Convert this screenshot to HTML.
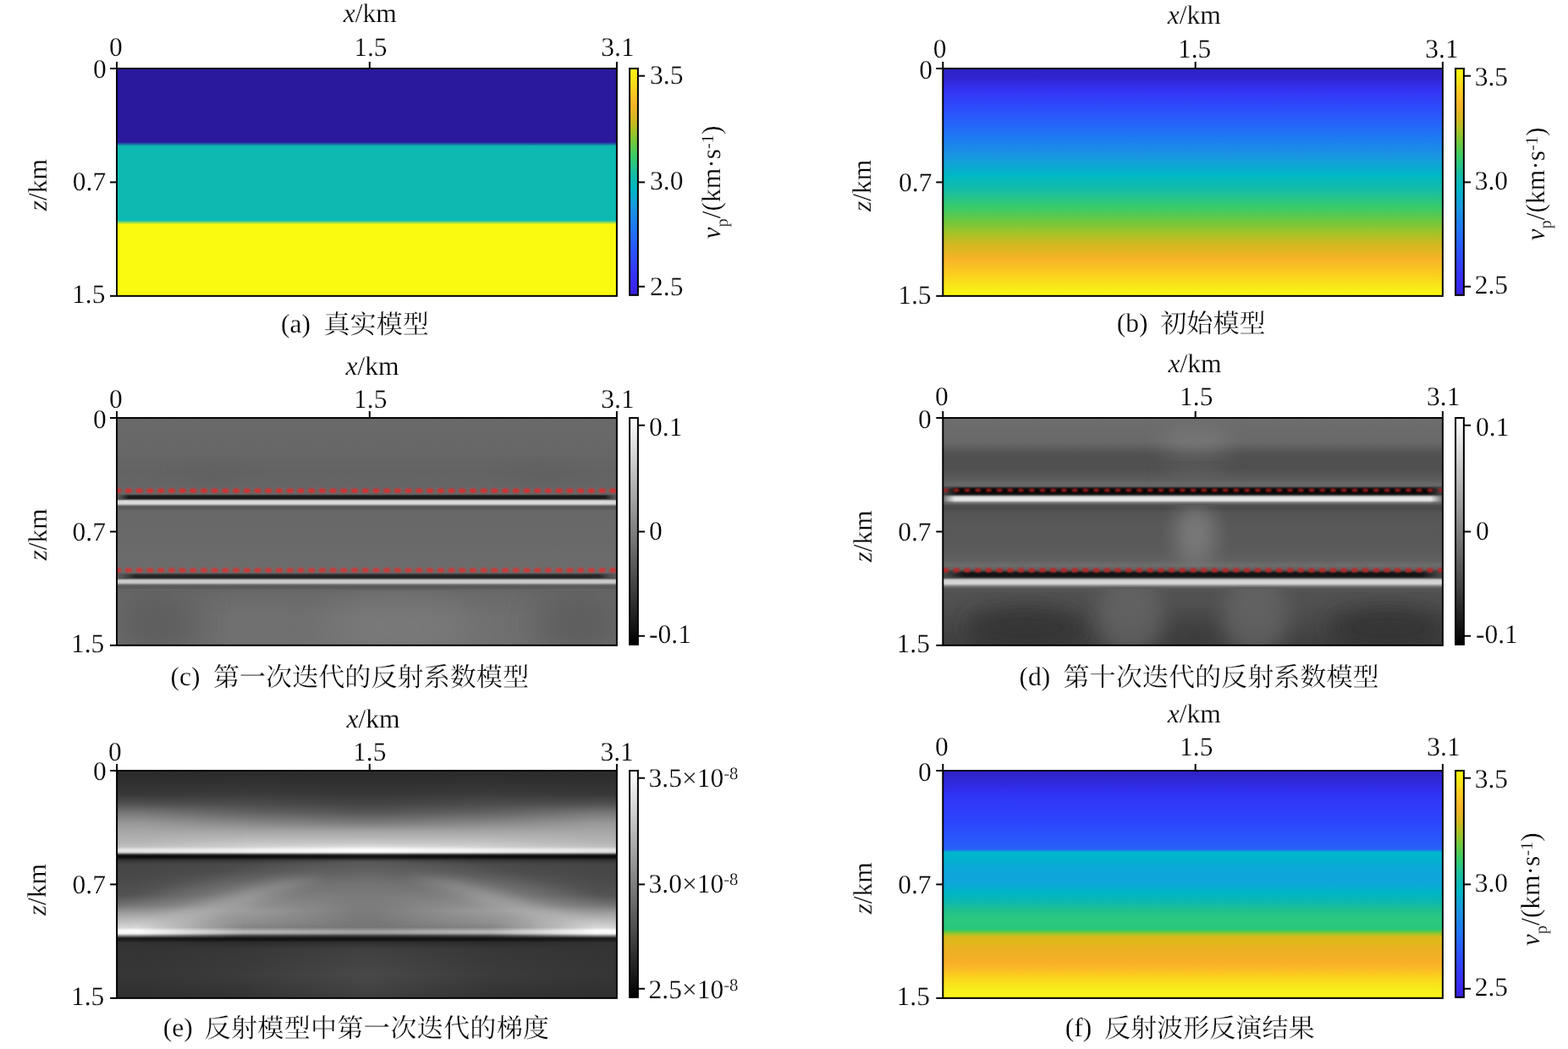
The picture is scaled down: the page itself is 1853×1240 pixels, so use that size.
<!DOCTYPE html>
<html lang="zh"><head><meta charset="utf-8"><title>Figure</title>
<style>html,body{margin:0;padding:0;background:#fff}svg{display:block}text{font-family:"Liberation Serif","Noto Serif CJK SC",serif;fill:#000;text-rendering:geometricPrecision;stroke:#fff;stroke-width:0.22px}</style></head>
<body>
<svg style="will-change:transform" width="1853" height="1240" viewBox="0 0 1853 1240">
<defs>
<linearGradient id="gb" x1="0" y1="0" x2="0" y2="1"><stop offset="0.0000" stop-color="#2E22C4"/><stop offset="0.0400" stop-color="#3024D0"/><stop offset="0.1000" stop-color="#3535F5"/><stop offset="0.2000" stop-color="#2A55FC"/><stop offset="0.2900" stop-color="#2075F5"/><stop offset="0.3900" stop-color="#1898E0"/><stop offset="0.4700" stop-color="#00B8C4"/><stop offset="0.5300" stop-color="#14BCA8"/><stop offset="0.6100" stop-color="#38CC6A"/><stop offset="0.6700" stop-color="#6CC840"/><stop offset="0.7200" stop-color="#A0C428"/><stop offset="0.7700" stop-color="#D0B820"/><stop offset="0.8400" stop-color="#F8B428"/><stop offset="0.9000" stop-color="#FCCC20"/><stop offset="0.9500" stop-color="#F8E418"/><stop offset="1.0000" stop-color="#FAFA10"/></linearGradient>
<linearGradient id="gcb" x1="0" y1="0" x2="0" y2="1"><stop offset="0.0000" stop-color="#FAFA10"/><stop offset="0.0500" stop-color="#F8E418"/><stop offset="0.1000" stop-color="#FCCC20"/><stop offset="0.1600" stop-color="#F8B428"/><stop offset="0.2300" stop-color="#D0B820"/><stop offset="0.2800" stop-color="#A0C428"/><stop offset="0.3300" stop-color="#6CC840"/><stop offset="0.3900" stop-color="#38CC6A"/><stop offset="0.4700" stop-color="#14BCA8"/><stop offset="0.5300" stop-color="#00B8C4"/><stop offset="0.6100" stop-color="#1898E0"/><stop offset="0.7100" stop-color="#2075F5"/><stop offset="0.8000" stop-color="#2A55FC"/><stop offset="0.9000" stop-color="#3535F5"/><stop offset="0.9600" stop-color="#3828F0"/><stop offset="1.0000" stop-color="#3820D8"/></linearGradient>
<linearGradient id="ggray" x1="0" y1="0" x2="0" y2="1"><stop offset="0.0000" stop-color="#FFFFFF"/><stop offset="1.0000" stop-color="#000000"/></linearGradient>
<linearGradient id="ga" x1="0" y1="0" x2="0" y2="1"><stop offset="0.0000" stop-color="#2A199C"/><stop offset="0.3232" stop-color="#2A199C"/><stop offset="0.3322" stop-color="#1C68A8"/><stop offset="0.3411" stop-color="#0CBAB2"/><stop offset="0.6673" stop-color="#0CBAB2"/><stop offset="0.6762" stop-color="#84DA60"/><stop offset="0.6851" stop-color="#FAFA10"/><stop offset="1.0000" stop-color="#FAFA10"/></linearGradient>
<linearGradient id="gc" x1="0" y1="0" x2="0" y2="1"><stop offset="0.0035" stop-color="#6A6A6A"/><stop offset="0.0965" stop-color="#686868"/><stop offset="0.1709" stop-color="#666666"/><stop offset="0.2453" stop-color="#636363"/><stop offset="0.3012" stop-color="#666666"/><stop offset="0.3309" stop-color="#696969"/><stop offset="0.3365" stop-color="#585858"/><stop offset="0.3402" stop-color="#303030"/><stop offset="0.3439" stop-color="#1C1C1C"/><stop offset="0.3488" stop-color="#181818"/><stop offset="0.3532" stop-color="#1C1C1C"/><stop offset="0.3570" stop-color="#383838"/><stop offset="0.3599" stop-color="#808080"/><stop offset="0.3629" stop-color="#C0C0C0"/><stop offset="0.3666" stop-color="#D8D8D8"/><stop offset="0.3718" stop-color="#DCDCDC"/><stop offset="0.3767" stop-color="#D8D8D8"/><stop offset="0.3804" stop-color="#B8B8B8"/><stop offset="0.3841" stop-color="#888888"/><stop offset="0.3882" stop-color="#606060"/><stop offset="0.3930" stop-color="#585858"/><stop offset="0.3979" stop-color="#5A5A5A"/><stop offset="0.4090" stop-color="#686868"/><stop offset="0.5430" stop-color="#696969"/><stop offset="0.6471" stop-color="#6C6C6C"/><stop offset="0.6788" stop-color="#6C6C6C"/><stop offset="0.6836" stop-color="#585858"/><stop offset="0.6873" stop-color="#383838"/><stop offset="0.6918" stop-color="#282828"/><stop offset="0.6970" stop-color="#242424"/><stop offset="0.7022" stop-color="#282828"/><stop offset="0.7059" stop-color="#484848"/><stop offset="0.7089" stop-color="#888888"/><stop offset="0.7119" stop-color="#B8B8B8"/><stop offset="0.7156" stop-color="#C8C8C8"/><stop offset="0.7197" stop-color="#CCCCCC"/><stop offset="0.7238" stop-color="#C8C8C8"/><stop offset="0.7275" stop-color="#B0B0B0"/><stop offset="0.7312" stop-color="#888888"/><stop offset="0.7349" stop-color="#686868"/><stop offset="0.7394" stop-color="#5A5A5A"/><stop offset="0.7476" stop-color="#5A5A5A"/><stop offset="0.7569" stop-color="#666666"/><stop offset="0.7736" stop-color="#6A6A6A"/><stop offset="0.8778" stop-color="#707070"/><stop offset="0.9931" stop-color="#707070"/></linearGradient>
<filter id="bl12" x="-30%" y="-30%" width="160%" height="160%"><feGaussianBlur stdDeviation="12"/></filter>
<filter id="bl20" x="-30%" y="-30%" width="160%" height="160%"><feGaussianBlur stdDeviation="20"/></filter>
<filter id="bl6" x="-30%" y="-30%" width="160%" height="160%"><feGaussianBlur stdDeviation="6"/></filter>
<filter id="blr1" x="-2%" y="-100%" width="104%" height="300%"><feGaussianBlur stdDeviation="0.9"/></filter>
<clipPath id="clc"><rect x="138" y="494.05" width="590.9" height="268.8"/></clipPath>
<linearGradient id="gcedgeL" x1="0" y1="0" x2="1" y2="0"><stop offset="0.0000" stop-color="#646464" stop-opacity="0.9"/><stop offset="0.4000" stop-color="#646464" stop-opacity="0.6"/><stop offset="1.0000" stop-color="#646464" stop-opacity="0"/></linearGradient>
<linearGradient id="gcedgeR" x1="0" y1="0" x2="1" y2="0"><stop offset="0.0000" stop-color="#646464" stop-opacity="0"/><stop offset="0.6000" stop-color="#646464" stop-opacity="0.6"/><stop offset="1.0000" stop-color="#646464" stop-opacity="0.9"/></linearGradient>
<clipPath id="clc3"><rect x="138" y="698" width="590.9" height="64.85000000000002"/></clipPath>
<clipPath id="clc1"><rect x="138" y="494.05" width="590.9" height="81.94999999999999"/></clipPath>
<linearGradient id="gd" x1="0" y1="0" x2="0" y2="1"><stop offset="0.0035" stop-color="#707070"/><stop offset="0.0221" stop-color="#6C6C6C"/><stop offset="0.1040" stop-color="#696969"/><stop offset="0.1263" stop-color="#606060"/><stop offset="0.1523" stop-color="#545454"/><stop offset="0.1747" stop-color="#505050"/><stop offset="0.2230" stop-color="#505050"/><stop offset="0.2453" stop-color="#565656"/><stop offset="0.2714" stop-color="#5C5C5C"/><stop offset="0.2900" stop-color="#686868"/><stop offset="0.2993" stop-color="#646464"/><stop offset="0.3049" stop-color="#404040"/><stop offset="0.3097" stop-color="#181818"/><stop offset="0.3142" stop-color="#0A0A0A"/><stop offset="0.3227" stop-color="#060606"/><stop offset="0.3309" stop-color="#0A0A0A"/><stop offset="0.3358" stop-color="#202020"/><stop offset="0.3398" stop-color="#585858"/><stop offset="0.3428" stop-color="#989898"/><stop offset="0.3462" stop-color="#CCCCCC"/><stop offset="0.3506" stop-color="#E2E2E2"/><stop offset="0.3562" stop-color="#EAEAEA"/><stop offset="0.3618" stop-color="#E2E2E2"/><stop offset="0.3659" stop-color="#C8C8C8"/><stop offset="0.3692" stop-color="#989898"/><stop offset="0.3737" stop-color="#747474"/><stop offset="0.3793" stop-color="#5C5C5C"/><stop offset="0.3849" stop-color="#4E4E4E"/><stop offset="0.3979" stop-color="#4A4A4A"/><stop offset="0.4165" stop-color="#545454"/><stop offset="0.4686" stop-color="#585858"/><stop offset="0.5802" stop-color="#5A5A5A"/><stop offset="0.6248" stop-color="#606060"/><stop offset="0.6471" stop-color="#6C6C6C"/><stop offset="0.6657" stop-color="#646464"/><stop offset="0.6739" stop-color="#404040"/><stop offset="0.6780" stop-color="#242424"/><stop offset="0.6825" stop-color="#161616"/><stop offset="0.6888" stop-color="#121212"/><stop offset="0.6955" stop-color="#161616"/><stop offset="0.7003" stop-color="#282828"/><stop offset="0.7041" stop-color="#585858"/><stop offset="0.7078" stop-color="#989898"/><stop offset="0.7122" stop-color="#C4C4C4"/><stop offset="0.7171" stop-color="#D4D4D4"/><stop offset="0.7219" stop-color="#D8D8D8"/><stop offset="0.7271" stop-color="#D4D4D4"/><stop offset="0.7316" stop-color="#C0C0C0"/><stop offset="0.7357" stop-color="#9C9C9C"/><stop offset="0.7401" stop-color="#7C7C7C"/><stop offset="0.7450" stop-color="#646464"/><stop offset="0.7506" stop-color="#565656"/><stop offset="0.7662" stop-color="#525252"/><stop offset="0.8220" stop-color="#505050"/><stop offset="0.8964" stop-color="#4A4A4A"/><stop offset="0.9931" stop-color="#404040"/></linearGradient>
<clipPath id="cld"><rect x="1114.3" y="494.05" width="590.6000000000001" height="268.8"/></clipPath>
<linearGradient id="gdedgeL" x1="0" y1="0" x2="1" y2="0"><stop offset="0.0000" stop-color="#585858" stop-opacity="0.85"/><stop offset="0.4000" stop-color="#585858" stop-opacity="0.5"/><stop offset="1.0000" stop-color="#585858" stop-opacity="0"/></linearGradient>
<linearGradient id="gdedgeR" x1="0" y1="0" x2="1" y2="0"><stop offset="0.0000" stop-color="#585858" stop-opacity="0"/><stop offset="0.6000" stop-color="#585858" stop-opacity="0.5"/><stop offset="1.0000" stop-color="#585858" stop-opacity="0.85"/></linearGradient>
<clipPath id="cld1"><rect x="1114.3" y="494.05" width="590.6000000000001" height="80.94999999999999"/></clipPath>
<clipPath id="cld2"><rect x="1114.3" y="597" width="590.6000000000001" height="73"/></clipPath>
<clipPath id="cld3"><rect x="1114.3" y="696" width="590.6000000000001" height="66.85000000000002"/></clipPath>
<linearGradient id="ge_e" x1="0" y1="0" x2="0" y2="1"><stop offset="0.0037" stop-color="#2C2C2C"/><stop offset="0.0186" stop-color="#2C2C2C"/><stop offset="0.1041" stop-color="#383838"/><stop offset="0.1451" stop-color="#505050"/><stop offset="0.1860" stop-color="#787878"/><stop offset="0.2306" stop-color="#989898"/><stop offset="0.2715" stop-color="#A8A8A8"/><stop offset="0.3124" stop-color="#B4B4B4"/><stop offset="0.3348" stop-color="#C0C0C0"/><stop offset="0.3422" stop-color="#D8D8D8"/><stop offset="0.3504" stop-color="#E8E8E8"/><stop offset="0.3586" stop-color="#D8D8D8"/><stop offset="0.3645" stop-color="#808080"/><stop offset="0.3705" stop-color="#202020"/><stop offset="0.3775" stop-color="#080808"/><stop offset="0.3850" stop-color="#181818"/><stop offset="0.3924" stop-color="#303030"/><stop offset="0.4129" stop-color="#484848"/><stop offset="0.4798" stop-color="#505050"/><stop offset="0.5468" stop-color="#5C5C5C"/><stop offset="0.5914" stop-color="#787878"/><stop offset="0.6323" stop-color="#A4A4A4"/><stop offset="0.6472" stop-color="#B0B0B0"/><stop offset="0.6732" stop-color="#C8C8C8"/><stop offset="0.6918" stop-color="#D8D8D8"/><stop offset="0.6974" stop-color="#F0F0F0"/><stop offset="0.7078" stop-color="#FFFFFF"/><stop offset="0.7168" stop-color="#F0F0F0"/><stop offset="0.7253" stop-color="#909090"/><stop offset="0.7346" stop-color="#282828"/><stop offset="0.7402" stop-color="#181818"/><stop offset="0.7476" stop-color="#202020"/><stop offset="0.7551" stop-color="#303030"/><stop offset="0.7848" stop-color="#343434"/><stop offset="0.9001" stop-color="#363636"/><stop offset="0.9857" stop-color="#303030"/></linearGradient>
<linearGradient id="ge_q" x1="0" y1="0" x2="0" y2="1"><stop offset="0.0037" stop-color="#2C2C2C"/><stop offset="0.0186" stop-color="#2C2C2C"/><stop offset="0.1041" stop-color="#3C3C3C"/><stop offset="0.1451" stop-color="#4C4C4C"/><stop offset="0.1860" stop-color="#646464"/><stop offset="0.2306" stop-color="#888888"/><stop offset="0.2715" stop-color="#A8A8A8"/><stop offset="0.3124" stop-color="#C0C0C0"/><stop offset="0.3348" stop-color="#D0D0D0"/><stop offset="0.3422" stop-color="#E4E4E4"/><stop offset="0.3504" stop-color="#F4F4F4"/><stop offset="0.3586" stop-color="#E4E4E4"/><stop offset="0.3645" stop-color="#888888"/><stop offset="0.3705" stop-color="#242424"/><stop offset="0.3775" stop-color="#0A0A0A"/><stop offset="0.3850" stop-color="#1C1C1C"/><stop offset="0.3924" stop-color="#343434"/><stop offset="0.4129" stop-color="#505050"/><stop offset="0.4463" stop-color="#585858"/><stop offset="0.4984" stop-color="#6C6C6C"/><stop offset="0.5654" stop-color="#888888"/><stop offset="0.6174" stop-color="#9C9C9C"/><stop offset="0.6658" stop-color="#909090"/><stop offset="0.6881" stop-color="#848484"/><stop offset="0.6993" stop-color="#A0A0A0"/><stop offset="0.7078" stop-color="#BCBCBC"/><stop offset="0.7168" stop-color="#A0A0A0"/><stop offset="0.7253" stop-color="#484848"/><stop offset="0.7346" stop-color="#1C1C1C"/><stop offset="0.7402" stop-color="#101010"/><stop offset="0.7476" stop-color="#1C1C1C"/><stop offset="0.7551" stop-color="#2C2C2C"/><stop offset="0.7848" stop-color="#383838"/><stop offset="0.9001" stop-color="#3C3C3C"/><stop offset="0.9857" stop-color="#343434"/></linearGradient>
<linearGradient id="ge_c" x1="0" y1="0" x2="0" y2="1"><stop offset="0.0037" stop-color="#2C2C2C"/><stop offset="0.0186" stop-color="#2C2C2C"/><stop offset="0.1041" stop-color="#383838"/><stop offset="0.1451" stop-color="#444444"/><stop offset="0.1860" stop-color="#585858"/><stop offset="0.2306" stop-color="#7C7C7C"/><stop offset="0.2715" stop-color="#A8A8A8"/><stop offset="0.2938" stop-color="#B4B4B4"/><stop offset="0.3180" stop-color="#C8C8C8"/><stop offset="0.3310" stop-color="#D8D8D8"/><stop offset="0.3422" stop-color="#F4F4F4"/><stop offset="0.3504" stop-color="#FFFFFF"/><stop offset="0.3586" stop-color="#F0F0F0"/><stop offset="0.3645" stop-color="#909090"/><stop offset="0.3705" stop-color="#282828"/><stop offset="0.3775" stop-color="#101010"/><stop offset="0.3850" stop-color="#202020"/><stop offset="0.3924" stop-color="#404040"/><stop offset="0.4017" stop-color="#585858"/><stop offset="0.4426" stop-color="#626262"/><stop offset="0.4984" stop-color="#747474"/><stop offset="0.5654" stop-color="#7C7C7C"/><stop offset="0.6174" stop-color="#7C7C7C"/><stop offset="0.6658" stop-color="#787878"/><stop offset="0.6881" stop-color="#747474"/><stop offset="0.6993" stop-color="#909090"/><stop offset="0.7078" stop-color="#A8A8A8"/><stop offset="0.7168" stop-color="#909090"/><stop offset="0.7253" stop-color="#404040"/><stop offset="0.7346" stop-color="#181818"/><stop offset="0.7402" stop-color="#101010"/><stop offset="0.7476" stop-color="#1C1C1C"/><stop offset="0.7551" stop-color="#303030"/><stop offset="0.7848" stop-color="#404040"/><stop offset="0.9001" stop-color="#484848"/><stop offset="0.9857" stop-color="#404040"/></linearGradient>
<linearGradient id="meg" x1="0" y1="0" x2="1" y2="0"><stop offset="0.0000" stop-color="#FFFFFF"/><stop offset="0.0423" stop-color="#FFFFFF"/><stop offset="0.2539" stop-color="#000000"/><stop offset="0.7461" stop-color="#000000"/><stop offset="0.9577" stop-color="#FFFFFF"/><stop offset="1.0000" stop-color="#FFFFFF"/></linearGradient>
<mask id="me" maskUnits="userSpaceOnUse" x="138.1" y="911" width="590.8" height="268.8499999999999"><rect x="138.1" y="911" width="590.8" height="268.8499999999999" fill="url(#meg)"/></mask>
<linearGradient id="mqg" x1="0" y1="0" x2="1" y2="0"><stop offset="0.0000" stop-color="#FFFFFF"/><stop offset="0.2539" stop-color="#FFFFFF"/><stop offset="0.4824" stop-color="#000000"/><stop offset="0.5176" stop-color="#000000"/><stop offset="0.7461" stop-color="#FFFFFF"/><stop offset="1.0000" stop-color="#FFFFFF"/></linearGradient>
<mask id="mq" maskUnits="userSpaceOnUse" x="138.1" y="911" width="590.8" height="268.8499999999999"><rect x="138.1" y="911" width="590.8" height="268.8499999999999" fill="url(#mqg)"/></mask>
<clipPath id="cle2"><rect x="138.1" y="1017" width="590.8" height="82"/></clipPath>
<linearGradient id="gf" x1="0" y1="0" x2="0" y2="1"><stop offset="0.0026" stop-color="#2E22C4"/><stop offset="0.0461" stop-color="#3028D8"/><stop offset="0.0893" stop-color="#3030F0"/><stop offset="0.1332" stop-color="#3038F8"/><stop offset="0.2195" stop-color="#2C44FC"/><stop offset="0.3069" stop-color="#2858FC"/><stop offset="0.3441" stop-color="#2860F8"/><stop offset="0.3589" stop-color="#00B4D0"/><stop offset="0.3768" stop-color="#00B4CC"/><stop offset="0.4114" stop-color="#08ACD4"/><stop offset="0.4635" stop-color="#10A4DC"/><stop offset="0.4984" stop-color="#0CA8D8"/><stop offset="0.5319" stop-color="#00B4C8"/><stop offset="0.5680" stop-color="#08B8B4"/><stop offset="0.6115" stop-color="#20C090"/><stop offset="0.6546" stop-color="#2CC880"/><stop offset="0.6963" stop-color="#28C87C"/><stop offset="0.7067" stop-color="#58C848"/><stop offset="0.7194" stop-color="#A8C428"/><stop offset="0.7313" stop-color="#DCB81C"/><stop offset="0.7588" stop-color="#E0B81C"/><stop offset="0.7848" stop-color="#ECB024"/><stop offset="0.8462" stop-color="#F8B028"/><stop offset="0.8815" stop-color="#FCC024"/><stop offset="0.9150" stop-color="#FAD81C"/><stop offset="0.9596" stop-color="#F8EC1C"/><stop offset="0.9894" stop-color="#F8F41C"/></linearGradient>
</defs>
<rect width="1853" height="1240" fill="#fff"/>
<g id="panel-a">
<rect x="138" y="81" width="590.90" height="268.85" fill="url(#ga)"/>
<rect x="138" y="81" width="590.9" height="268.85" fill="none" stroke="#000" stroke-width="2"/>
<line x1="138" y1="73" x2="138" y2="81" stroke="#000" stroke-width="2"/>
<line x1="436.8" y1="73" x2="436.8" y2="81" stroke="#000" stroke-width="2"/>
<line x1="728.9" y1="73" x2="728.9" y2="81" stroke="#000" stroke-width="2"/>
<line x1="130" y1="81" x2="138" y2="81" stroke="#000" stroke-width="2"/>
<line x1="130" y1="215.425" x2="138" y2="215.425" stroke="#000" stroke-width="2"/>
<line x1="130" y1="349.85" x2="138" y2="349.85" stroke="#000" stroke-width="2"/>
<g transform="translate(405.81 25.8)" aria-label="x/km"><text x="0" y="0" font-size="31.5" font-style="italic">x</text><text x="13.98" y="0.00" font-size="31.5">/km</text></g>
<text x="128.93" y="65.70" font-size="31.5" text-anchor="start">0</text>
<text x="418.21" y="65.70" font-size="31.5" text-anchor="start">1.5</text>
<text x="710.31" y="65.70" font-size="31.5" text-anchor="start">3.1</text>
<text x="110.05" y="92.30" font-size="31.5" text-anchor="start">0</text>
<text x="85.82" y="224.50" font-size="31.5" text-anchor="start">0.7</text>
<text x="85.02" y="357.60" font-size="31.5" text-anchor="start">1.5</text>
<g transform="translate(55.3 249.13) rotate(-90)" aria-label="z/km"><text x="0" y="0" font-size="31.5" font-style="italic">z</text><text x="12.26" y="0.00" font-size="31.5">/km</text></g>
</g>
<g id="panel-b">
<rect x="1114.3" y="81" width="590.60" height="268.85" fill="url(#gb)"/>
<rect x="1114.3" y="81" width="590.6000000000001" height="268.85" fill="none" stroke="#000" stroke-width="2"/>
<line x1="1114.3" y1="73" x2="1114.3" y2="81" stroke="#000" stroke-width="2"/>
<line x1="1412.7" y1="73" x2="1412.7" y2="81" stroke="#000" stroke-width="2"/>
<line x1="1704.9" y1="73" x2="1704.9" y2="81" stroke="#000" stroke-width="2"/>
<line x1="1106.3" y1="81" x2="1114.3" y2="81" stroke="#000" stroke-width="2"/>
<line x1="1106.3" y1="215.425" x2="1114.3" y2="215.425" stroke="#000" stroke-width="2"/>
<line x1="1106.3" y1="349.85" x2="1114.3" y2="349.85" stroke="#000" stroke-width="2"/>
<g transform="translate(1379.71 28.0)" aria-label="x/km"><text x="0" y="0" font-size="31.5" font-style="italic">x</text><text x="13.98" y="0.00" font-size="31.5">/km</text></g>
<text x="1102.72" y="67.60" font-size="31.5" text-anchor="start">0</text>
<text x="1391.91" y="67.60" font-size="31.5" text-anchor="start">1.5</text>
<text x="1684.31" y="67.60" font-size="31.5" text-anchor="start">3.1</text>
<text x="1086.25" y="93.00" font-size="31.5" text-anchor="start">0</text>
<text x="1062.12" y="225.70" font-size="31.5" text-anchor="start">0.7</text>
<text x="1061.22" y="358.90" font-size="31.5" text-anchor="start">1.5</text>
<g transform="translate(1029.3 249.93) rotate(-90)" aria-label="z/km"><text x="0" y="0" font-size="31.5" font-style="italic">z</text><text x="12.26" y="0.00" font-size="31.5">/km</text></g>
</g>
<g id="panel-c">
<g clip-path="url(#clc)"><rect x="138" y="494.05" width="590.90" height="268.80" fill="url(#gc)"/><g clip-path="url(#clc3)"><ellipse cx="470" cy="742" rx="90" ry="35" fill="#7E7E7E" opacity="0.7" filter="url(#bl20)"/><ellipse cx="185" cy="738" rx="55" ry="40" fill="#565656" opacity="0.7" filter="url(#bl20)"/><ellipse cx="685" cy="738" rx="55" ry="40" fill="#565656" opacity="0.7" filter="url(#bl20)"/></g><g clip-path="url(#clc1)"><ellipse cx="250" cy="560" rx="40" ry="12" fill="#5E5E5E" opacity="0.6" filter="url(#bl12)"/><ellipse cx="640" cy="560" rx="40" ry="12" fill="#5E5E5E" opacity="0.6" filter="url(#bl12)"/></g><rect x="138" y="583.5" width="14.00" height="6.80" fill="url(#gcedgeL)"/><rect x="714.9" y="583.5" width="14.00" height="6.80" fill="url(#gcedgeR)"/><rect x="138" y="677" width="22.00" height="6.80" fill="url(#gcedgeL)"/><rect x="706.9" y="677" width="22.00" height="6.80" fill="url(#gcedgeR)"/><g fill="#D62E2E" filter="url(#blr1)"><rect x="135.20" y="577.50" width="8" height="5" rx="2"/><rect x="147.92" y="577.50" width="8" height="5" rx="2"/><rect x="160.64" y="577.50" width="8" height="5" rx="2"/><rect x="173.36" y="577.50" width="8" height="5" rx="2"/><rect x="186.08" y="577.50" width="8" height="5" rx="2"/><rect x="198.80" y="577.50" width="8" height="5" rx="2"/><rect x="211.52" y="577.50" width="8" height="5" rx="2"/><rect x="224.24" y="577.50" width="8" height="5" rx="2"/><rect x="236.96" y="577.50" width="8" height="5" rx="2"/><rect x="249.68" y="577.50" width="8" height="5" rx="2"/><rect x="262.40" y="577.50" width="8" height="5" rx="2"/><rect x="275.12" y="577.50" width="8" height="5" rx="2"/><rect x="287.84" y="577.50" width="8" height="5" rx="2"/><rect x="300.56" y="577.50" width="8" height="5" rx="2"/><rect x="313.28" y="577.50" width="8" height="5" rx="2"/><rect x="326.00" y="577.50" width="8" height="5" rx="2"/><rect x="338.72" y="577.50" width="8" height="5" rx="2"/><rect x="351.44" y="577.50" width="8" height="5" rx="2"/><rect x="364.16" y="577.50" width="8" height="5" rx="2"/><rect x="376.88" y="577.50" width="8" height="5" rx="2"/><rect x="389.60" y="577.50" width="8" height="5" rx="2"/><rect x="402.32" y="577.50" width="8" height="5" rx="2"/><rect x="415.04" y="577.50" width="8" height="5" rx="2"/><rect x="427.76" y="577.50" width="8" height="5" rx="2"/><rect x="440.48" y="577.50" width="8" height="5" rx="2"/><rect x="453.20" y="577.50" width="8" height="5" rx="2"/><rect x="465.92" y="577.50" width="8" height="5" rx="2"/><rect x="478.64" y="577.50" width="8" height="5" rx="2"/><rect x="491.36" y="577.50" width="8" height="5" rx="2"/><rect x="504.08" y="577.50" width="8" height="5" rx="2"/><rect x="516.80" y="577.50" width="8" height="5" rx="2"/><rect x="529.52" y="577.50" width="8" height="5" rx="2"/><rect x="542.24" y="577.50" width="8" height="5" rx="2"/><rect x="554.96" y="577.50" width="8" height="5" rx="2"/><rect x="567.68" y="577.50" width="8" height="5" rx="2"/><rect x="580.40" y="577.50" width="8" height="5" rx="2"/><rect x="593.12" y="577.50" width="8" height="5" rx="2"/><rect x="605.84" y="577.50" width="8" height="5" rx="2"/><rect x="618.56" y="577.50" width="8" height="5" rx="2"/><rect x="631.28" y="577.50" width="8" height="5" rx="2"/><rect x="644.00" y="577.50" width="8" height="5" rx="2"/><rect x="656.72" y="577.50" width="8" height="5" rx="2"/><rect x="669.44" y="577.50" width="8" height="5" rx="2"/><rect x="682.16" y="577.50" width="8" height="5" rx="2"/><rect x="694.88" y="577.50" width="8" height="5" rx="2"/><rect x="707.60" y="577.50" width="8" height="5" rx="2"/><rect x="720.32" y="577.50" width="8" height="5" rx="2"/></g><g fill="#D03434" filter="url(#blr1)"><rect x="135.20" y="671.40" width="8" height="5" rx="2"/><rect x="147.92" y="671.40" width="8" height="5" rx="2"/><rect x="160.64" y="671.40" width="8" height="5" rx="2"/><rect x="173.36" y="671.40" width="8" height="5" rx="2"/><rect x="186.08" y="671.40" width="8" height="5" rx="2"/><rect x="198.80" y="671.40" width="8" height="5" rx="2"/><rect x="211.52" y="671.40" width="8" height="5" rx="2"/><rect x="224.24" y="671.40" width="8" height="5" rx="2"/><rect x="236.96" y="671.40" width="8" height="5" rx="2"/><rect x="249.68" y="671.40" width="8" height="5" rx="2"/><rect x="262.40" y="671.40" width="8" height="5" rx="2"/><rect x="275.12" y="671.40" width="8" height="5" rx="2"/><rect x="287.84" y="671.40" width="8" height="5" rx="2"/><rect x="300.56" y="671.40" width="8" height="5" rx="2"/><rect x="313.28" y="671.40" width="8" height="5" rx="2"/><rect x="326.00" y="671.40" width="8" height="5" rx="2"/><rect x="338.72" y="671.40" width="8" height="5" rx="2"/><rect x="351.44" y="671.40" width="8" height="5" rx="2"/><rect x="364.16" y="671.40" width="8" height="5" rx="2"/><rect x="376.88" y="671.40" width="8" height="5" rx="2"/><rect x="389.60" y="671.40" width="8" height="5" rx="2"/><rect x="402.32" y="671.40" width="8" height="5" rx="2"/><rect x="415.04" y="671.40" width="8" height="5" rx="2"/><rect x="427.76" y="671.40" width="8" height="5" rx="2"/><rect x="440.48" y="671.40" width="8" height="5" rx="2"/><rect x="453.20" y="671.40" width="8" height="5" rx="2"/><rect x="465.92" y="671.40" width="8" height="5" rx="2"/><rect x="478.64" y="671.40" width="8" height="5" rx="2"/><rect x="491.36" y="671.40" width="8" height="5" rx="2"/><rect x="504.08" y="671.40" width="8" height="5" rx="2"/><rect x="516.80" y="671.40" width="8" height="5" rx="2"/><rect x="529.52" y="671.40" width="8" height="5" rx="2"/><rect x="542.24" y="671.40" width="8" height="5" rx="2"/><rect x="554.96" y="671.40" width="8" height="5" rx="2"/><rect x="567.68" y="671.40" width="8" height="5" rx="2"/><rect x="580.40" y="671.40" width="8" height="5" rx="2"/><rect x="593.12" y="671.40" width="8" height="5" rx="2"/><rect x="605.84" y="671.40" width="8" height="5" rx="2"/><rect x="618.56" y="671.40" width="8" height="5" rx="2"/><rect x="631.28" y="671.40" width="8" height="5" rx="2"/><rect x="644.00" y="671.40" width="8" height="5" rx="2"/><rect x="656.72" y="671.40" width="8" height="5" rx="2"/><rect x="669.44" y="671.40" width="8" height="5" rx="2"/><rect x="682.16" y="671.40" width="8" height="5" rx="2"/><rect x="694.88" y="671.40" width="8" height="5" rx="2"/><rect x="707.60" y="671.40" width="8" height="5" rx="2"/><rect x="720.32" y="671.40" width="8" height="5" rx="2"/></g></g>
<rect x="138" y="494.05" width="590.9" height="268.8" fill="none" stroke="#000" stroke-width="2"/>
<line x1="138" y1="486.05" x2="138" y2="494.05" stroke="#000" stroke-width="2"/>
<line x1="436.8" y1="486.05" x2="436.8" y2="494.05" stroke="#000" stroke-width="2"/>
<line x1="728.9" y1="486.05" x2="728.9" y2="494.05" stroke="#000" stroke-width="2"/>
<line x1="130" y1="494.05" x2="138" y2="494.05" stroke="#000" stroke-width="2"/>
<line x1="130" y1="628.45" x2="138" y2="628.45" stroke="#000" stroke-width="2"/>
<line x1="130" y1="762.85" x2="138" y2="762.85" stroke="#000" stroke-width="2"/>
<g transform="translate(408.51 442.9)" aria-label="x/km"><text x="0" y="0" font-size="31.5" font-style="italic">x</text><text x="13.98" y="0.00" font-size="31.5">/km</text></g>
<text x="128.93" y="481.80" font-size="31.5" text-anchor="start">0</text>
<text x="418.11" y="481.80" font-size="31.5" text-anchor="start">1.5</text>
<text x="710.31" y="481.80" font-size="31.5" text-anchor="start">3.1</text>
<text x="110.05" y="505.70" font-size="31.5" text-anchor="start">0</text>
<text x="85.62" y="638.90" font-size="31.5" text-anchor="start">0.7</text>
<text x="83.92" y="771.30" font-size="31.5" text-anchor="start">1.5</text>
<g transform="translate(55.0 662.53) rotate(-90)" aria-label="z/km"><text x="0" y="0" font-size="31.5" font-style="italic">z</text><text x="12.26" y="0.00" font-size="31.5">/km</text></g>
</g>
<g id="panel-d">
<g clip-path="url(#cld)"><rect x="1114.3" y="494.05" width="590.60" height="268.80" fill="url(#gd)"/><g clip-path="url(#cld2)"><ellipse cx="1412.6" cy="632" rx="24" ry="36" fill="#888888" opacity="0.7" filter="url(#bl12)"/></g><g clip-path="url(#cld1)"><ellipse cx="1412.6" cy="522" rx="42" ry="14" fill="#828282" opacity="0.6" filter="url(#bl12)"/><ellipse cx="1412.6" cy="556" rx="36" ry="12" fill="#646464" opacity="0.6" filter="url(#bl12)"/></g><g clip-path="url(#cld3)"><ellipse cx="1212" cy="742" rx="72" ry="26" fill="#2E2E2E" opacity="0.7" filter="url(#bl12)"/><ellipse cx="1640" cy="742" rx="72" ry="26" fill="#2E2E2E" opacity="0.7" filter="url(#bl12)"/><ellipse cx="1410" cy="750" rx="26" ry="20" fill="#383838" opacity="0.55" filter="url(#bl12)"/><ellipse cx="1335" cy="728" rx="38" ry="48" fill="#6C6C6C" opacity="0.65" filter="url(#bl12)"/><ellipse cx="1484" cy="728" rx="38" ry="48" fill="#6C6C6C" opacity="0.65" filter="url(#bl12)"/></g><rect x="1114.3" y="576" width="18.00" height="8.50" fill="url(#gdedgeL)"/><rect x="1686.9" y="576" width="18.00" height="8.50" fill="url(#gdedgeR)"/><rect x="1114.3" y="585" width="14.00" height="10.00" fill="url(#gdedgeL)"/><rect x="1690.9" y="585" width="14.00" height="10.00" fill="url(#gdedgeR)"/><rect x="1114.3" y="675.5" width="26.00" height="7.50" fill="url(#gdedgeL)"/><rect x="1678.9" y="675.5" width="26.00" height="7.50" fill="url(#gdedgeR)"/><g fill="#A81A1A" filter="url(#blr1)"><rect x="1114.10" y="577.80" width="6.8" height="3.4" rx="2"/><rect x="1126.82" y="577.80" width="6.8" height="3.4" rx="2"/><rect x="1139.54" y="577.80" width="6.8" height="3.4" rx="2"/><rect x="1152.26" y="577.80" width="6.8" height="3.4" rx="2"/><rect x="1164.98" y="577.80" width="6.8" height="3.4" rx="2"/><rect x="1177.70" y="577.80" width="6.8" height="3.4" rx="2"/><rect x="1190.42" y="577.80" width="6.8" height="3.4" rx="2"/><rect x="1203.14" y="577.80" width="6.8" height="3.4" rx="2"/><rect x="1215.86" y="577.80" width="6.8" height="3.4" rx="2"/><rect x="1228.58" y="577.80" width="6.8" height="3.4" rx="2"/><rect x="1241.30" y="577.80" width="6.8" height="3.4" rx="2"/><rect x="1254.02" y="577.80" width="6.8" height="3.4" rx="2"/><rect x="1266.74" y="577.80" width="6.8" height="3.4" rx="2"/><rect x="1279.46" y="577.80" width="6.8" height="3.4" rx="2"/><rect x="1292.18" y="577.80" width="6.8" height="3.4" rx="2"/><rect x="1304.90" y="577.80" width="6.8" height="3.4" rx="2"/><rect x="1317.62" y="577.80" width="6.8" height="3.4" rx="2"/><rect x="1330.34" y="577.80" width="6.8" height="3.4" rx="2"/><rect x="1343.06" y="577.80" width="6.8" height="3.4" rx="2"/><rect x="1355.78" y="577.80" width="6.8" height="3.4" rx="2"/><rect x="1368.50" y="577.80" width="6.8" height="3.4" rx="2"/><rect x="1381.22" y="577.80" width="6.8" height="3.4" rx="2"/><rect x="1393.94" y="577.80" width="6.8" height="3.4" rx="2"/><rect x="1406.66" y="577.80" width="6.8" height="3.4" rx="2"/><rect x="1419.38" y="577.80" width="6.8" height="3.4" rx="2"/><rect x="1432.10" y="577.80" width="6.8" height="3.4" rx="2"/><rect x="1444.82" y="577.80" width="6.8" height="3.4" rx="2"/><rect x="1457.54" y="577.80" width="6.8" height="3.4" rx="2"/><rect x="1470.26" y="577.80" width="6.8" height="3.4" rx="2"/><rect x="1482.98" y="577.80" width="6.8" height="3.4" rx="2"/><rect x="1495.70" y="577.80" width="6.8" height="3.4" rx="2"/><rect x="1508.42" y="577.80" width="6.8" height="3.4" rx="2"/><rect x="1521.14" y="577.80" width="6.8" height="3.4" rx="2"/><rect x="1533.86" y="577.80" width="6.8" height="3.4" rx="2"/><rect x="1546.58" y="577.80" width="6.8" height="3.4" rx="2"/><rect x="1559.30" y="577.80" width="6.8" height="3.4" rx="2"/><rect x="1572.02" y="577.80" width="6.8" height="3.4" rx="2"/><rect x="1584.74" y="577.80" width="6.8" height="3.4" rx="2"/><rect x="1597.46" y="577.80" width="6.8" height="3.4" rx="2"/><rect x="1610.18" y="577.80" width="6.8" height="3.4" rx="2"/><rect x="1622.90" y="577.80" width="6.8" height="3.4" rx="2"/><rect x="1635.62" y="577.80" width="6.8" height="3.4" rx="2"/><rect x="1648.34" y="577.80" width="6.8" height="3.4" rx="2"/><rect x="1661.06" y="577.80" width="6.8" height="3.4" rx="2"/><rect x="1673.78" y="577.80" width="6.8" height="3.4" rx="2"/><rect x="1686.50" y="577.80" width="6.8" height="3.4" rx="2"/><rect x="1699.22" y="577.80" width="6.8" height="3.4" rx="2"/></g><g fill="#B82828" filter="url(#blr1)"><rect x="1113.75" y="671.40" width="7.5" height="5" rx="2"/><rect x="1126.47" y="671.40" width="7.5" height="5" rx="2"/><rect x="1139.19" y="671.40" width="7.5" height="5" rx="2"/><rect x="1151.91" y="671.40" width="7.5" height="5" rx="2"/><rect x="1164.63" y="671.40" width="7.5" height="5" rx="2"/><rect x="1177.35" y="671.40" width="7.5" height="5" rx="2"/><rect x="1190.07" y="671.40" width="7.5" height="5" rx="2"/><rect x="1202.79" y="671.40" width="7.5" height="5" rx="2"/><rect x="1215.51" y="671.40" width="7.5" height="5" rx="2"/><rect x="1228.23" y="671.40" width="7.5" height="5" rx="2"/><rect x="1240.95" y="671.40" width="7.5" height="5" rx="2"/><rect x="1253.67" y="671.40" width="7.5" height="5" rx="2"/><rect x="1266.39" y="671.40" width="7.5" height="5" rx="2"/><rect x="1279.11" y="671.40" width="7.5" height="5" rx="2"/><rect x="1291.83" y="671.40" width="7.5" height="5" rx="2"/><rect x="1304.55" y="671.40" width="7.5" height="5" rx="2"/><rect x="1317.27" y="671.40" width="7.5" height="5" rx="2"/><rect x="1329.99" y="671.40" width="7.5" height="5" rx="2"/><rect x="1342.71" y="671.40" width="7.5" height="5" rx="2"/><rect x="1355.43" y="671.40" width="7.5" height="5" rx="2"/><rect x="1368.15" y="671.40" width="7.5" height="5" rx="2"/><rect x="1380.87" y="671.40" width="7.5" height="5" rx="2"/><rect x="1393.59" y="671.40" width="7.5" height="5" rx="2"/><rect x="1406.31" y="671.40" width="7.5" height="5" rx="2"/><rect x="1419.03" y="671.40" width="7.5" height="5" rx="2"/><rect x="1431.75" y="671.40" width="7.5" height="5" rx="2"/><rect x="1444.47" y="671.40" width="7.5" height="5" rx="2"/><rect x="1457.19" y="671.40" width="7.5" height="5" rx="2"/><rect x="1469.91" y="671.40" width="7.5" height="5" rx="2"/><rect x="1482.63" y="671.40" width="7.5" height="5" rx="2"/><rect x="1495.35" y="671.40" width="7.5" height="5" rx="2"/><rect x="1508.07" y="671.40" width="7.5" height="5" rx="2"/><rect x="1520.79" y="671.40" width="7.5" height="5" rx="2"/><rect x="1533.51" y="671.40" width="7.5" height="5" rx="2"/><rect x="1546.23" y="671.40" width="7.5" height="5" rx="2"/><rect x="1558.95" y="671.40" width="7.5" height="5" rx="2"/><rect x="1571.67" y="671.40" width="7.5" height="5" rx="2"/><rect x="1584.39" y="671.40" width="7.5" height="5" rx="2"/><rect x="1597.11" y="671.40" width="7.5" height="5" rx="2"/><rect x="1609.83" y="671.40" width="7.5" height="5" rx="2"/><rect x="1622.55" y="671.40" width="7.5" height="5" rx="2"/><rect x="1635.27" y="671.40" width="7.5" height="5" rx="2"/><rect x="1647.99" y="671.40" width="7.5" height="5" rx="2"/><rect x="1660.71" y="671.40" width="7.5" height="5" rx="2"/><rect x="1673.43" y="671.40" width="7.5" height="5" rx="2"/><rect x="1686.15" y="671.40" width="7.5" height="5" rx="2"/><rect x="1698.87" y="671.40" width="7.5" height="5" rx="2"/></g></g>
<rect x="1114.3" y="494.05" width="590.6000000000001" height="268.8" fill="none" stroke="#000" stroke-width="2"/>
<line x1="1114.3" y1="486.05" x2="1114.3" y2="494.05" stroke="#000" stroke-width="2"/>
<line x1="1412.7" y1="486.05" x2="1412.7" y2="494.05" stroke="#000" stroke-width="2"/>
<line x1="1704.9" y1="486.05" x2="1704.9" y2="494.05" stroke="#000" stroke-width="2"/>
<line x1="1106.3" y1="494.05" x2="1114.3" y2="494.05" stroke="#000" stroke-width="2"/>
<line x1="1106.3" y1="628.45" x2="1114.3" y2="628.45" stroke="#000" stroke-width="2"/>
<line x1="1106.3" y1="762.85" x2="1114.3" y2="762.85" stroke="#000" stroke-width="2"/>
<g transform="translate(1380.61 439.8)" aria-label="x/km"><text x="0" y="0" font-size="31.5" font-style="italic">x</text><text x="13.98" y="0.00" font-size="31.5">/km</text></g>
<text x="1104.92" y="478.70" font-size="31.5" text-anchor="start">0</text>
<text x="1394.01" y="478.70" font-size="31.5" text-anchor="start">1.5</text>
<text x="1686.11" y="478.70" font-size="31.5" text-anchor="start">3.1</text>
<text x="1085.05" y="506.00" font-size="31.5" text-anchor="start">0</text>
<text x="1061.22" y="638.90" font-size="31.5" text-anchor="start">0.7</text>
<text x="1059.52" y="771.30" font-size="31.5" text-anchor="start">1.5</text>
<g transform="translate(1030.3 664.43) rotate(-90)" aria-label="z/km"><text x="0" y="0" font-size="31.5" font-style="italic">z</text><text x="12.26" y="0.00" font-size="31.5">/km</text></g>
</g>
<g id="panel-e">
<rect x="138.1" y="911" width="590.80" height="268.85" fill="url(#ge_c)"/><rect x="138.1" y="911" width="590.80" height="268.85" fill="url(#ge_q)" mask="url(#mq)"/><rect x="138.1" y="911" width="590.80" height="268.85" fill="url(#ge_e)" mask="url(#me)"/><g clip-path="url(#cle2)"><polygon points="148.1,1093 328.1,1040 388.1,1036 228.1,1090" fill="#FFFFFF" opacity="0.16" filter="url(#bl6)"/><polygon points="718.9,1093 538.9,1040 478.9,1036 638.9,1090" fill="#FFFFFF" opacity="0.16" filter="url(#bl6)"/><polygon points="118.1,1017 338.1,1017 118.1,1072" fill="#3C3C3C" opacity="0.3" filter="url(#bl6)"/><polygon points="748.9,1017 528.9,1017 748.9,1072" fill="#3C3C3C" opacity="0.3" filter="url(#bl6)"/></g>
<rect x="138.1" y="911" width="590.8" height="268.8499999999999" fill="none" stroke="#000" stroke-width="2"/>
<line x1="138.1" y1="903" x2="138.1" y2="911" stroke="#000" stroke-width="2"/>
<line x1="436.8" y1="903" x2="436.8" y2="911" stroke="#000" stroke-width="2"/>
<line x1="728.9" y1="903" x2="728.9" y2="911" stroke="#000" stroke-width="2"/>
<line x1="130.1" y1="911" x2="138.1" y2="911" stroke="#000" stroke-width="2"/>
<line x1="130.1" y1="1045.425" x2="138.1" y2="1045.425" stroke="#000" stroke-width="2"/>
<line x1="130.1" y1="1179.85" x2="138.1" y2="1179.85" stroke="#000" stroke-width="2"/>
<g transform="translate(409.61 860.0)" aria-label="x/km"><text x="0" y="0" font-size="31.5" font-style="italic">x</text><text x="13.98" y="0.00" font-size="31.5">/km</text></g>
<text x="128.12" y="898.90" font-size="31.5" text-anchor="start">0</text>
<text x="417.01" y="898.90" font-size="31.5" text-anchor="start">1.5</text>
<text x="709.41" y="898.90" font-size="31.5" text-anchor="start">3.1</text>
<text x="110.05" y="922.30" font-size="31.5" text-anchor="start">0</text>
<text x="85.62" y="1055.50" font-size="31.5" text-anchor="start">0.7</text>
<text x="83.92" y="1188.30" font-size="31.5" text-anchor="start">1.5</text>
<g transform="translate(54.2 1082.23) rotate(-90)" aria-label="z/km"><text x="0" y="0" font-size="31.5" font-style="italic">z</text><text x="12.26" y="0.00" font-size="31.5">/km</text></g>
</g>
<g id="panel-f">
<rect x="1114.3" y="911" width="590.60" height="268.85" fill="url(#gf)"/>
<rect x="1114.3" y="911" width="590.6000000000001" height="268.8499999999999" fill="none" stroke="#000" stroke-width="2"/>
<line x1="1114.3" y1="903" x2="1114.3" y2="911" stroke="#000" stroke-width="2"/>
<line x1="1412.7" y1="903" x2="1412.7" y2="911" stroke="#000" stroke-width="2"/>
<line x1="1704.9" y1="903" x2="1704.9" y2="911" stroke="#000" stroke-width="2"/>
<line x1="1106.3" y1="911" x2="1114.3" y2="911" stroke="#000" stroke-width="2"/>
<line x1="1106.3" y1="1045.425" x2="1114.3" y2="1045.425" stroke="#000" stroke-width="2"/>
<line x1="1106.3" y1="1179.85" x2="1114.3" y2="1179.85" stroke="#000" stroke-width="2"/>
<g transform="translate(1379.71 854.0)" aria-label="x/km"><text x="0" y="0" font-size="31.5" font-style="italic">x</text><text x="13.98" y="0.00" font-size="31.5">/km</text></g>
<text x="1104.92" y="892.90" font-size="31.5" text-anchor="start">0</text>
<text x="1394.01" y="892.90" font-size="31.5" text-anchor="start">1.5</text>
<text x="1686.31" y="892.90" font-size="31.5" text-anchor="start">3.1</text>
<text x="1085.05" y="922.80" font-size="31.5" text-anchor="start">0</text>
<text x="1061.22" y="1055.50" font-size="31.5" text-anchor="start">0.7</text>
<text x="1059.52" y="1188.30" font-size="31.5" text-anchor="start">1.5</text>
<g transform="translate(1030.3 1080.43) rotate(-90)" aria-label="z/km"><text x="0" y="0" font-size="31.5" font-style="italic">z</text><text x="12.26" y="0.00" font-size="31.5">/km</text></g>
</g>
<rect x="744.07" y="81" width="9.829999999999927" height="267.85" fill="url(#gcb)" stroke="#000" stroke-width="2"/>
<line x1="753.9" y1="89.7" x2="762.1" y2="89.7" stroke="#000" stroke-width="2"/>
<line x1="753.9" y1="215.425" x2="762.1" y2="215.425" stroke="#000" stroke-width="2"/>
<line x1="753.9" y1="338.75" x2="762.1" y2="338.75" stroke="#000" stroke-width="2"/>
<rect x="1720.07" y="81" width="9.830000000000155" height="267.85" fill="url(#gcb)" stroke="#000" stroke-width="2"/>
<line x1="1729.9" y1="89.7" x2="1738.1000000000001" y2="89.7" stroke="#000" stroke-width="2"/>
<line x1="1729.9" y1="215.425" x2="1738.1000000000001" y2="215.425" stroke="#000" stroke-width="2"/>
<line x1="1729.9" y1="338.75" x2="1738.1000000000001" y2="338.75" stroke="#000" stroke-width="2"/>
<rect x="744.07" y="494.05" width="9.829999999999927" height="267.8" fill="url(#ggray)" stroke="#000" stroke-width="2"/>
<line x1="753.9" y1="502.75" x2="762.1" y2="502.75" stroke="#000" stroke-width="2"/>
<line x1="753.9" y1="628.45" x2="762.1" y2="628.45" stroke="#000" stroke-width="2"/>
<line x1="753.9" y1="751.75" x2="762.1" y2="751.75" stroke="#000" stroke-width="2"/>
<rect x="1720.07" y="494.05" width="9.830000000000155" height="267.8" fill="url(#ggray)" stroke="#000" stroke-width="2"/>
<line x1="1729.9" y1="502.75" x2="1738.1000000000001" y2="502.75" stroke="#000" stroke-width="2"/>
<line x1="1729.9" y1="628.45" x2="1738.1000000000001" y2="628.45" stroke="#000" stroke-width="2"/>
<line x1="1729.9" y1="751.75" x2="1738.1000000000001" y2="751.75" stroke="#000" stroke-width="2"/>
<rect x="744.07" y="911" width="9.829999999999927" height="267.8499999999999" fill="url(#ggray)" stroke="#000" stroke-width="2"/>
<line x1="753.9" y1="919.7" x2="762.1" y2="919.7" stroke="#000" stroke-width="2"/>
<line x1="753.9" y1="1045.425" x2="762.1" y2="1045.425" stroke="#000" stroke-width="2"/>
<line x1="753.9" y1="1168.75" x2="762.1" y2="1168.75" stroke="#000" stroke-width="2"/>
<rect x="1720.07" y="911" width="9.830000000000155" height="267.8499999999999" fill="url(#gcb)" stroke="#000" stroke-width="2"/>
<line x1="1729.9" y1="919.7" x2="1738.1000000000001" y2="919.7" stroke="#000" stroke-width="2"/>
<line x1="1729.9" y1="1045.425" x2="1738.1000000000001" y2="1045.425" stroke="#000" stroke-width="2"/>
<line x1="1729.9" y1="1168.75" x2="1738.1000000000001" y2="1168.75" stroke="#000" stroke-width="2"/>
<text x="768.00" y="98.70" font-size="31.5" text-anchor="start">3.5</text>
<text x="768.00" y="223.70" font-size="31.5" text-anchor="start">3.0</text>
<text x="768.00" y="348.50" font-size="31.5" text-anchor="start">2.5</text>
<text x="1742.70" y="101.10" font-size="31.5" text-anchor="start">3.5</text>
<text x="1742.70" y="223.70" font-size="31.5" text-anchor="start">3.0</text>
<text x="1742.70" y="346.80" font-size="31.5" text-anchor="start">2.5</text>
<text x="1742.70" y="930.60" font-size="31.5" text-anchor="start">3.5</text>
<text x="1742.70" y="1053.70" font-size="31.5" text-anchor="start">3.0</text>
<text x="1742.70" y="1176.80" font-size="31.5" text-anchor="start">2.5</text>
<g transform="translate(851.0 282.5) rotate(-90)" aria-label="vp/(km·s-1)"><text x="0" y="0" font-size="31.5" font-style="italic">v</text><text x="13.98" y="8.60" font-size="20.5">p</text><text x="24.23" y="0.00" font-size="31.5">/(km·s</text><text x="106.47" y="-8.10" font-size="20.5">-1</text><text x="123.55" y="0.00" font-size="31.5">)</text></g>
<g transform="translate(1824.6 284.5) rotate(-90)" aria-label="vp/(km·s-1)"><text x="0" y="0" font-size="31.5" font-style="italic">v</text><text x="13.98" y="8.60" font-size="20.5">p</text><text x="24.23" y="0.00" font-size="31.5">/(km·s</text><text x="106.47" y="-8.10" font-size="20.5">-1</text><text x="123.55" y="0.00" font-size="31.5">)</text></g>
<g transform="translate(1819.1 1118.3) rotate(-90)" aria-label="vp/(km·s-1)"><text x="0" y="0" font-size="31.5" font-style="italic">v</text><text x="13.98" y="8.60" font-size="20.5">p</text><text x="24.23" y="0.00" font-size="31.5">/(km·s</text><text x="106.47" y="-8.10" font-size="20.5">-1</text><text x="123.55" y="0.00" font-size="31.5">)</text></g>
<text x="767.10" y="515.10" font-size="31.5" text-anchor="start">0.1</text>
<text x="767.10" y="637.50" font-size="31.5" text-anchor="start">0</text>
<text x="767.10" y="760.00" font-size="31.5" text-anchor="start">-0.1</text>
<text x="1744.00" y="515.10" font-size="31.5" text-anchor="start">0.1</text>
<text x="1744.00" y="637.50" font-size="31.5" text-anchor="start">0</text>
<text x="1744.00" y="760.00" font-size="31.5" text-anchor="start">-0.1</text>
<g transform="translate(766.60 930.00)"><text x="0.00" y="0.00" font-size="31.5">3.5×10</text><text x="88.64" y="-8.60" font-size="20.5">-8</text></g>
<g transform="translate(766.60 1054.80)"><text x="0.00" y="0.00" font-size="31.5">3.0×10</text><text x="88.64" y="-8.60" font-size="20.5">-8</text></g>
<g transform="translate(766.60 1179.70)"><text x="0.00" y="0.00" font-size="31.5">2.5×10</text><text x="88.64" y="-8.60" font-size="20.5">-8</text></g>
<text x="332.00" y="392.70" font-size="31.5" text-anchor="start">(a)</text>
<g aria-label="真实模型"><text x="382.50" y="393.60" font-size="31.1" text-anchor="start">真实模型</text></g>
<text x="1319.80" y="392.10" font-size="31.5" text-anchor="start">(b)</text>
<g aria-label="初始模型"><text x="1371.20" y="393.00" font-size="31.1" text-anchor="start">初始模型</text></g>
<text x="201.50" y="809.90" font-size="31.5" text-anchor="start">(c)</text>
<g aria-label="第一次迭代的反射系数模型"><text x="251.90" y="810.80" font-size="31.1" text-anchor="start">第一次迭代的反射系数模型</text></g>
<text x="1204.40" y="809.90" font-size="31.5" text-anchor="start">(d)</text>
<g aria-label="第十次迭代的反射系数模型"><text x="1256.50" y="810.80" font-size="31.1" text-anchor="start">第十次迭代的反射系数模型</text></g>
<text x="192.70" y="1225.30" font-size="31.5" text-anchor="start">(e)</text>
<g aria-label="反射模型中第一次迭代的梯度"><text x="241.50" y="1226.20" font-size="31.1" letter-spacing="0.29" text-anchor="start">反射模型中第一次迭代的梯度</text></g>
<text x="1258.70" y="1225.10" font-size="31.5" text-anchor="start">(f)</text>
<g aria-label="反射波形反演结果"><text x="1304.90" y="1226.00" font-size="31.1" text-anchor="start">反射波形反演结果</text></g>
</svg>
</body></html>
